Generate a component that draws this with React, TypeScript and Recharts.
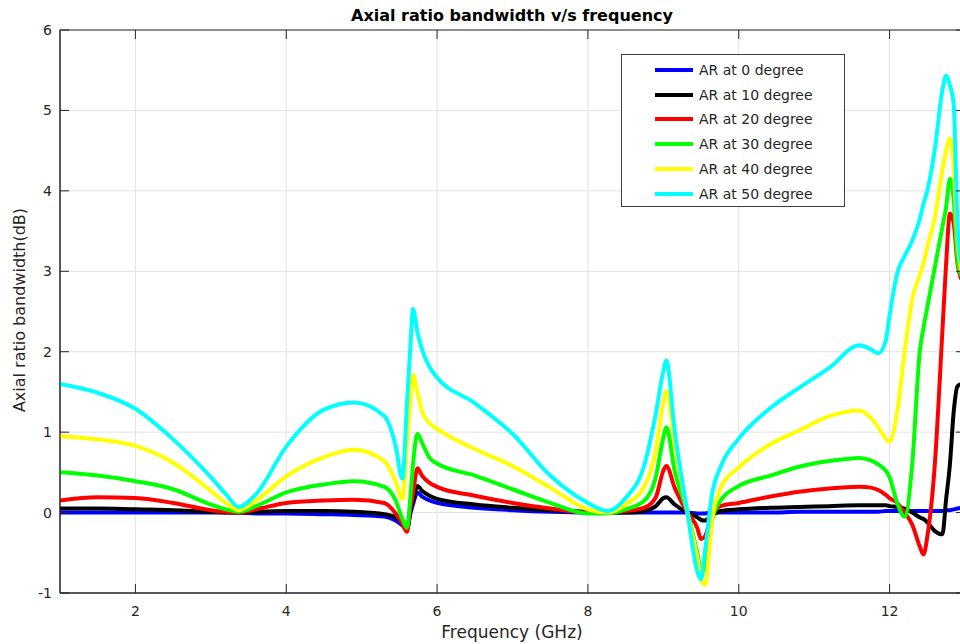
import { CartesianGrid, Line, LineChart, ReferenceArea, XAxis, YAxis } from 'recharts'

// frequency samples (GHz)
const freq = [
  1.0, 1.5, 2.0, 2.5, 3.0, 3.2, 3.37, 3.6, 4.0, 4.5, 4.9, 5.3, 5.45, 5.54, 5.6, 5.65, 5.68, 5.74, 5.8, 5.9, 6.0,
  6.5, 7.0, 7.5, 8.0, 8.26, 8.5, 8.75, 8.9, 9.0, 9.04, 9.15, 9.32, 9.45, 9.5, 9.55, 9.65, 9.76, 10.0, 10.42, 10.8,
  11.2, 11.6, 11.75, 11.85, 11.95, 12.0, 12.1, 12.2, 12.3, 12.4, 12.45, 12.5, 12.6, 12.7, 12.75, 12.8, 12.85, 12.9, 12.95,
]

const ar0 = [
  0.0, 0.0, 0.0, 0.0, 0.0, 0.0, 0.0, -0.01, -0.01, -0.02, -0.03, -0.05, -0.1, -0.16, -0.21, 0.0, 0.1, 0.25, 0.2, 0.15, 0.12,
  0.06, 0.03, 0.01, 0.0, 0.0, 0.0, 0.0, 0.0, 0.0, 0.0, 0.0, 0.0, -0.01, -0.01, -0.01, 0.0, 0.0, 0.0, 0.0, 0.01,
  0.01, 0.01, 0.01, 0.01, 0.02, 0.02, 0.02, 0.02, 0.02, 0.02, 0.02, 0.02, 0.02, 0.02, 0.03, 0.03, 0.04, 0.05, 0.06,
]

const ar10 = [
  0.05, 0.05, 0.04, 0.03, 0.01, 0.0, 0.0, 0.01, 0.02, 0.02, 0.01, -0.02, -0.06, -0.12, -0.2, 0.05, 0.15, 0.33, 0.27, 0.21, 0.17,
  0.1, 0.06, 0.03, 0.01, 0.0, 0.0, 0.02, 0.08, 0.18, 0.19, 0.1, 0.0, -0.06, -0.09, -0.1, -0.03, 0.02, 0.04, 0.06, 0.07,
  0.08, 0.09, 0.09, 0.09, 0.09, 0.08, 0.07, 0.05, 0.0, -0.06, -0.08, -0.12, -0.23, -0.27, 0.17, 0.6, 1.25, 1.57, 1.6,
]

const ar20 = [
  0.15, 0.19, 0.18, 0.12, 0.03, 0.01, 0.0, 0.04, 0.12, 0.15, 0.16, 0.12, -0.01, -0.14, -0.24, 0.08, 0.23, 0.55, 0.46, 0.37, 0.32,
  0.21, 0.12, 0.05, 0.0, 0.0, 0.02, 0.06, 0.19, 0.52, 0.58, 0.31, 0.0, -0.19, -0.33, -0.3, 0.0, 0.08, 0.12, 0.2, 0.26,
  0.3, 0.32, 0.31, 0.28, 0.22, 0.18, 0.12, 0.0, -0.15, -0.42, -0.52, -0.3, 0.6, 2.25, 3.1, 3.72, 3.6, 3.1, 2.9,
]

const ar30 = [
  0.5, 0.46, 0.39, 0.29, 0.1, 0.04, 0.01, 0.08, 0.25, 0.35, 0.39, 0.32, 0.15, -0.08, -0.19, 0.24, 0.59, 0.98, 0.87, 0.68, 0.61,
  0.46, 0.29, 0.12, -0.01, -0.01, 0.04, 0.15, 0.44, 0.93, 1.06, 0.52, 0.0, -0.5, -0.72, -0.72, -0.08, 0.15, 0.33, 0.46, 0.57,
  0.64, 0.68, 0.65, 0.6, 0.52, 0.44, 0.12, -0.05, 0.6, 2.0, 2.3, 2.55, 3.05, 3.55, 3.8, 4.15, 3.9, 3.15, 2.95,
]

const ar40 = [
  0.95, 0.91, 0.83, 0.62, 0.27, 0.12, 0.03, 0.15, 0.45, 0.69, 0.78, 0.64, 0.39, 0.17, 0.85, 1.43, 1.71, 1.49, 1.26, 1.11, 1.04,
  0.79, 0.58, 0.31, 0.04, 0.0, 0.1, 0.33, 0.77, 1.37, 1.51, 0.85, 0.0, -0.56, -0.82, -0.9, -0.06, 0.31, 0.56, 0.85, 1.02,
  1.2, 1.27, 1.18, 1.06, 0.92, 0.88, 1.25, 2.0, 2.65, 2.95, 3.1, 3.3, 3.67, 4.25, 4.5, 4.65, 4.3, 3.4, 3.0,
]

const ar50 = [
  1.6, 1.49, 1.29, 0.91, 0.44, 0.23, 0.07, 0.23, 0.82, 1.28, 1.37, 1.2, 0.83, 0.42, 1.34, 2.13, 2.53, 2.24, 2.03, 1.81, 1.68,
  1.36, 0.98, 0.46, 0.12, 0.02, 0.18, 0.6, 1.23, 1.76, 1.89, 1.02, 0.0, -0.73, -0.83, -0.5, 0.25, 0.57, 0.92, 1.3, 1.55,
  1.8, 2.08, 2.03, 1.98, 2.14, 2.45, 2.97, 3.19, 3.38, 3.65, 3.84, 4.0, 4.52, 5.25, 5.43, 5.31, 5.08, 3.6, 3.1,
]

const seriesNames = ['AR at 0 degree', 'AR at 10 degree', 'AR at 20 degree', 'AR at 30 degree', 'AR at 40 degree', 'AR at 50 degree']
const seriesKeys = ['ar0', 'ar10', 'ar20', 'ar30', 'ar40', 'ar50']
const seriesColors = ['#0000ff', '#000000', '#ff0000', '#00ff00', '#ffff00', '#00ffff']
const xTicks = [2, 4, 6, 8, 10, 12]
const yTicks = [-1, 0, 1, 2, 3, 4, 5, 6]

const chartData = freq.map((f, i) => ({
  f,
  ar0: ar0[i],
  ar10: ar10[i],
  ar20: ar20[i],
  ar30: ar30[i],
  ar40: ar40[i],
  ar50: ar50[i],
}))

const FONT = '"DejaVu Sans", "Liberation Sans", sans-serif'
const AXIS = '#262626'
const PLOT_TOP = 30
const PLOT_BOTTOM = 593
const PLOT_LEFT = 60
const PLOT_RIGHT = 965
const TICK_LEN = 9

function XTick(props: any) {
  const { x, payload } = props
  return (
    <g>
      <line x1={x} x2={x} y1={PLOT_BOTTOM} y2={PLOT_BOTTOM - TICK_LEN} stroke={AXIS} />
      <line x1={x} x2={x} y1={PLOT_TOP} y2={PLOT_TOP + TICK_LEN} stroke={AXIS} />
      <text x={x} y={PLOT_BOTTOM + 23} textAnchor="middle" fontSize={14} fontFamily={FONT} fill={AXIS}>
        {payload.value}
      </text>
    </g>
  )
}

function YTick(props: any) {
  const { y, payload } = props
  return (
    <g>
      <line x1={PLOT_LEFT} x2={PLOT_LEFT + TICK_LEN} y1={y} y2={y} stroke={AXIS} />
      <line x1={PLOT_RIGHT} x2={PLOT_RIGHT - TICK_LEN} y1={y} y2={y} stroke={AXIS} />
      <text x={PLOT_LEFT - 8} y={y + 5} textAnchor="end" fontSize={14} fontFamily={FONT} fill={AXIS}>
        {payload.value}
      </text>
    </g>
  )
}

function ChartLegend() {
  return (
    <div
      style={{
        position: 'absolute',
        left: 621,
        top: 54,
        width: 224,
        height: 153,
        border: '1px solid #404040',
        background: '#fff',
        boxSizing: 'border-box',
        fontFamily: FONT,
        fontSize: 14,
        color: AXIS,
      }}
    >
      {seriesNames.map((name, i) => (
        <div
          key={name}
          style={{
            position: 'absolute',
            left: 33,
            top: 5 + i * 24.7,
            height: 20,
            display: 'flex',
            alignItems: 'center',
            whiteSpace: 'nowrap',
          }}
        >
          <span style={{ display: 'inline-block', width: 38, height: 4, background: seriesColors[i], marginRight: 6 }} />
          {name}
        </div>
      ))}
    </div>
  )
}

export default function App() {
  return (
    <div style={{ position: 'absolute', left: 0, top: 0, width: 960, height: 644, overflow: 'hidden', background: '#fff' }}>
      <LineChart width={966} height={644} data={chartData} margin={{ top: PLOT_TOP, right: 1, left: 0, bottom: 0 }}>
        <CartesianGrid stroke="#e2e2e2" strokeWidth={1} />
        <XAxis
          dataKey="f"
          type="number"
          domain={[1, 13]}
          ticks={xTicks}
          allowDataOverflow
          height={51}
          tick={<XTick />}
          tickLine={false}
          axisLine={{ stroke: AXIS }}
        />
        <YAxis
          type="number"
          domain={[-1, 6]}
          ticks={yTicks}
          allowDataOverflow
          width={60}
          tick={<YTick />}
          tickLine={false}
          axisLine={{ stroke: AXIS }}
        />
        <ReferenceArea x1={1} x2={13} y1={-1} y2={6} fill="none" stroke={AXIS} strokeWidth={1} />
        {seriesKeys.map((key, i) => (
          <Line
            key={key}
            dataKey={key}
            type="monotone"
            stroke={seriesColors[i]}
            strokeWidth={4}
            dot={false}
            activeDot={false}
            isAnimationActive={false}
          />
        ))}
      </LineChart>
      <div
        style={{
          position: 'absolute',
          left: 262,
          width: 500,
          top: 6,
          lineHeight: '20px',
          textAlign: 'center',
          fontFamily: FONT,
          fontSize: 16,
          fontWeight: 'bold',
          color: '#000',
        }}
      >
        Axial ratio bandwidth v/s frequency
      </div>
      <div
        style={{
          position: 'absolute',
          left: 312,
          width: 400,
          top: 621,
          lineHeight: '22px',
          textAlign: 'center',
          fontFamily: FONT,
          fontSize: 17,
          color: AXIS,
        }}
      >
        Frequency (GHz)
      </div>
      <div
        style={{
          position: 'absolute',
          left: 20 - 150,
          top: 310 - 11,
          width: 300,
          lineHeight: '22px',
          textAlign: 'center',
          transform: 'rotate(-90deg)',
          fontFamily: FONT,
          fontSize: 16,
          color: AXIS,
        }}
      >
        Axial ratio bandwidth(dB)
      </div>
      <ChartLegend />
    </div>
  )
}
